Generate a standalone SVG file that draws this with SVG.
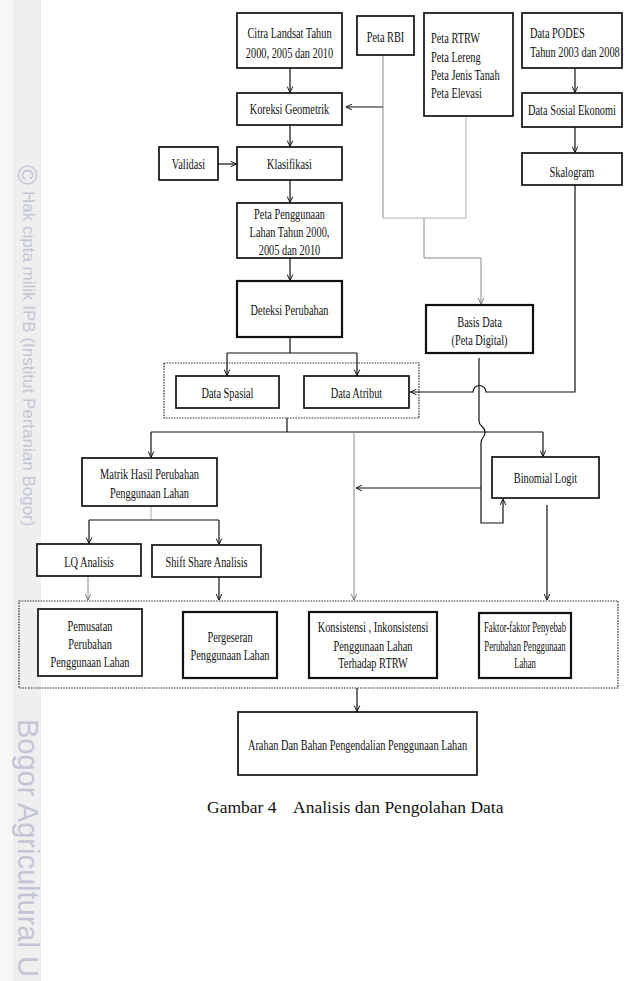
<svg xmlns="http://www.w3.org/2000/svg" width="626" height="981" viewBox="0 0 626 981">
<style>
.b{fill:#fff;stroke:#111;stroke-width:1.7}
.bt{fill:#fff;stroke:#111;stroke-width:2.2}
.d{fill:none;stroke:#333;stroke-width:1.2;stroke-dasharray:1.6 1.1}
.t{font-family:"Liberation Serif","Times New Roman",serif;font-size:15px;fill:#111;text-anchor:middle}
.l{font-family:"Liberation Serif","Times New Roman",serif;font-size:15px;fill:#111;text-anchor:start}
.wm{font-family:"Liberation Sans",Arial,sans-serif;fill:#c3c5d6}
.cap{font-family:"Liberation Serif","Times New Roman",serif;font-size:17.5px;fill:#111}
.k{fill:none;stroke:#111;stroke-width:1.2}
.g{fill:none;stroke:#8a8a8a;stroke-width:1}
.g2{fill:none;stroke:#b0b0b0;stroke-width:1}
</style>
<defs>
<marker id="ar" viewBox="0 0 10 10" refX="9.5" refY="5" markerWidth="7" markerHeight="7" orient="auto" markerUnits="userSpaceOnUse">
<path d="M1,1 L9.5,5 L1,9" fill="none" stroke="#111" stroke-width="1.4"/>
</marker>
<marker id="ag" viewBox="0 0 10 10" refX="9.5" refY="5" markerWidth="7" markerHeight="7" orient="auto" markerUnits="userSpaceOnUse">
<path d="M1,1 L9.5,5 L1,9" fill="none" stroke="#777" stroke-width="1.4"/>
</marker>
</defs>
<rect width="626" height="981" fill="#fff"/>
<g id="watermark">
<rect x="0" y="0" width="41" height="981" fill="#f7f7f7"/>
<rect x="13" y="0" width="28" height="981" fill="#efefef"/>
<text class="wm" font-size="27" transform="translate(18 165) rotate(90)">©</text>
<text class="wm" font-size="17" transform="translate(23 191) rotate(90)">Hak cipta milik IPB (Institut Pertanian Bogor)</text>
<text class="wm" font-size="29" transform="translate(18 719) rotate(90)">Bogor Agricultural U</text>
</g>
<g id="groups">
<rect class="d" x="164" y="363" width="255" height="55"/>
<rect class="d" x="19" y="601" width="599" height="87"/>
</g>
<g id="connectors">
<path class="k" d="M290 68V92.5" marker-end="url(#ar)"/>
<path class="k" d="M290 125V146.5" marker-end="url(#ar)"/>
<path class="k" d="M218 164H236.5" marker-end="url(#ar)"/>
<path class="k" d="M290 180V202.5" marker-end="url(#ar)"/>
<path class="k" d="M290 258V280.5" marker-end="url(#ar)"/>
<path class="g" d="M383 55V218"/>
<path class="k" d="M383 107H346" marker-end="url(#ar)"/>
<path class="g2" d="M466 116V218H383"/>
<path class="g" d="M424 218V258H481V304" marker-end="url(#ag)"/>
<path class="k" d="M575 68V92.5" marker-end="url(#ar)"/>
<path class="k" d="M575 127V152.5" marker-end="url(#ar)"/>
<path class="k" d="M575 185V392H486A6.5 6.5 0 0 0 473 392H410.5" marker-end="url(#ar)"/>
<path class="k" d="M290 337V353M227 353H357"/>
<path class="k" d="M227 353V375.5" marker-end="url(#ar)"/>
<path class="k" d="M357 353V375.5" marker-end="url(#ar)"/>
<path class="k" d="M287 418V432M151 432H543"/>
<path class="k" d="M151 432V457.5" marker-end="url(#ar)"/>
<path class="k" d="M543 432V456.5" marker-end="url(#ar)"/>
<path class="g" d="M354 432V600" marker-end="url(#ag)"/>
<path class="k" d="M479 358V421C479 427 485 426 485 432C485 438 481 437 481 443V523H503V499" marker-end="url(#ar)"/>
<path class="k" d="M481 488H356" marker-end="url(#ar)"/>
<path class="k" d="M547 505V600" marker-end="url(#ar)"/>
<path class="g2" d="M151 506V520"/>
<path class="k" d="M89 520H219"/>
<path class="k" d="M89 520V543.5" marker-end="url(#ar)"/>
<path class="k" d="M219 520V544.5" marker-end="url(#ar)"/>
<path class="g" d="M88 576V600" marker-end="url(#ag)"/>
<path class="k" d="M219 577V600" marker-end="url(#ar)"/>
<path class="k" d="M357 688V711.5" marker-end="url(#ar)"/>
</g>
<g id="citra">
<rect class="b" x="237" y="13" width="105" height="55"/>
<text class="t" transform="translate(289.5 0) scale(0.69 1)"><tspan x="0" y="38">Citra Landsat Tahun</tspan><tspan x="0" y="58">2000, 2005 dan 2010</tspan></text>
</g>
<g id="rbi">
<rect class="b" x="357" y="16" width="57" height="39"/>
<text class="t" transform="translate(385.5 0) scale(0.69 1)"><tspan x="0" y="42">Peta RBI</tspan></text>
</g>
<g id="rtrw">
<rect class="b" x="424" y="13" width="89" height="103"/>
<text class="l" transform="translate(431 0) scale(0.69 1)"><tspan x="0" y="43">Peta RTRW</tspan><tspan x="0" y="62">Peta Lereng</tspan><tspan x="0" y="80">Peta Jenis Tanah</tspan><tspan x="0" y="98">Peta Elevasi</tspan></text>
</g>
<g id="podes">
<rect class="b" x="522" y="13" width="100" height="55"/>
<text class="l" transform="translate(530 0) scale(0.69 1)"><tspan x="0" y="38">Data PODES</tspan><tspan x="0" y="57">Tahun 2003 dan 2008</tspan></text>
</g>
<g id="koreksi">
<rect class="b" x="237" y="93" width="105" height="32"/>
<text class="t" transform="translate(289.5 0) scale(0.69 1)"><tspan x="0" y="114">Koreksi Geometrik</tspan></text>
</g>
<g id="validasi">
<rect class="b" x="159" y="147" width="59" height="33"/>
<text class="t" transform="translate(188.5 0) scale(0.69 1)"><tspan x="0" y="169">Validasi</tspan></text>
</g>
<g id="klasifikasi">
<rect class="b" x="237" y="147" width="105" height="33"/>
<text class="t" transform="translate(289.5 0) scale(0.69 1)"><tspan x="0" y="169">Klasifikasi</tspan></text>
</g>
<g id="sosek">
<rect class="b" x="522" y="93" width="100" height="34"/>
<text class="t" transform="translate(572 0) scale(0.69 1)"><tspan x="0" y="115">Data Sosial Ekonomi</tspan></text>
</g>
<g id="skalogram">
<rect class="b" x="522" y="153" width="100" height="32"/>
<text class="t" transform="translate(572 0) scale(0.69 1)"><tspan x="0" y="177">Skalogram</tspan></text>
</g>
<g id="peta-penggunaan">
<rect class="b" x="237" y="203" width="105" height="55"/>
<text class="t" transform="translate(289.5 0) scale(0.69 1)"><tspan x="0" y="219">Peta Penggunaan</tspan><tspan x="0" y="237">Lahan Tahun 2000,</tspan><tspan x="0" y="255">2005 dan 2010</tspan></text>
</g>
<g id="deteksi">
<rect class="bt" x="237" y="281" width="105" height="56"/>
<text class="t" transform="translate(289.5 0) scale(0.69 1)"><tspan x="0" y="315">Deteksi Perubahan</tspan></text>
</g>
<g id="basis">
<rect class="bt" x="426" y="305" width="107" height="48"/>
<text class="t" transform="translate(479.5 0) scale(0.69 1)"><tspan x="0" y="327">Basis Data</tspan><tspan x="0" y="345">(Peta Digital)</tspan></text>
</g>
<g id="spasial">
<rect class="b" x="176" y="376" width="103" height="32"/>
<text class="t" transform="translate(227.5 0) scale(0.69 1)"><tspan x="0" y="398">Data Spasial</tspan></text>
</g>
<g id="atribut">
<rect class="b" x="304" y="376" width="105" height="32"/>
<text class="t" transform="translate(356.5 0) scale(0.69 1)"><tspan x="0" y="398">Data Atribut</tspan></text>
</g>
<g id="matrik">
<rect class="b" x="82" y="458" width="135" height="48"/>
<text class="t" transform="translate(149.5 0) scale(0.69 1)"><tspan x="0" y="479">Matrik Hasil Perubahan</tspan><tspan x="0" y="498">Penggunaan Lahan</tspan></text>
</g>
<g id="binomial">
<rect class="b" x="492" y="457" width="107" height="41"/>
<text class="t" transform="translate(545.5 0) scale(0.69 1)"><tspan x="0" y="483">Binomial Logit</tspan></text>
</g>
<g id="lq">
<rect class="b" x="37" y="544" width="104" height="32"/>
<text class="t" transform="translate(89 0) scale(0.69 1)"><tspan x="0" y="567">LQ Analisis</tspan></text>
</g>
<g id="shiftshare">
<rect class="b" x="152" y="545" width="109" height="32"/>
<text class="t" transform="translate(206.5 0) scale(0.69 1)"><tspan x="0" y="567">Shift Share Analisis</tspan></text>
</g>
<g id="pemusatan">
<rect class="b" x="38" y="609" width="104" height="67"/>
<text class="t" transform="translate(90 0) scale(0.69 1)"><tspan x="0" y="631">Pemusatan</tspan><tspan x="0" y="649">Perubahan</tspan><tspan x="0" y="667">Penggunaan Lahan</tspan></text>
</g>
<g id="pergeseran">
<rect class="bt" x="183" y="612" width="94" height="66"/>
<text class="t" transform="translate(230 0) scale(0.69 1)"><tspan x="0" y="642">Pergeseran</tspan><tspan x="0" y="660">Penggunaan Lahan</tspan></text>
</g>
<g id="konsistensi">
<rect class="bt" x="309" y="612" width="128" height="66"/>
<text class="t" transform="translate(373 0) scale(0.69 1)"><tspan x="0" y="632">Konsistensi , Inkonsistensi</tspan><tspan x="0" y="651">Penggunaan Lahan</tspan><tspan x="0" y="668">Terhadap RTRW</tspan></text>
</g>
<g id="faktor">
<rect class="bt" x="479" y="613" width="92" height="65"/>
<text class="t" transform="translate(525 0) scale(0.58 1)"><tspan x="0" y="632">Faktor-faktor Penyebab</tspan><tspan x="0" y="651">Perubahan Penggunaan</tspan><tspan x="0" y="668">Lahan</tspan></text>
</g>
<g id="arahan">
<rect class="b" x="238" y="712" width="239" height="63"/>
<text class="t" transform="translate(357.5 0) scale(0.69 1)"><tspan x="0" y="750">Arahan Dan Bahan Pengendalian Penggunaan Lahan</tspan></text>
</g>
<g id="caption">
<text class="cap" x="207" y="813">Gambar 4</text>
<text class="cap" x="293" y="813">Analisis dan Pengolahan Data</text>
</g>
</svg>
